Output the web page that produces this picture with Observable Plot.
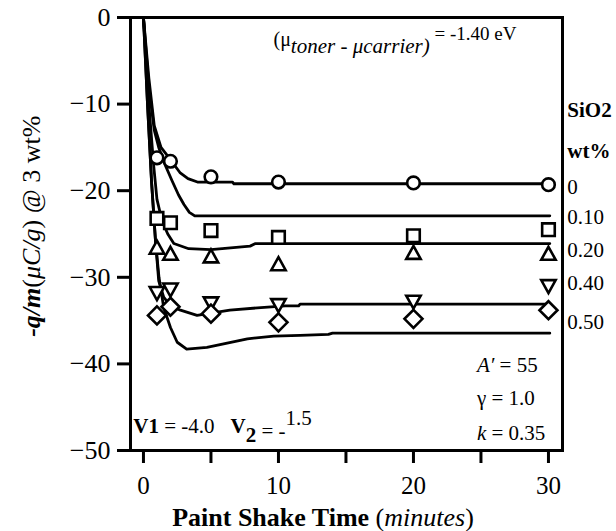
<!DOCTYPE html>
<html><head><meta charset="utf-8">
<script src="https://cdn.jsdelivr.net/npm/d3@7"></script>
<script src="https://cdn.jsdelivr.net/npm/@observablehq/plot@0.6"></script>
<style>
body{margin:0;background:#fff}
svg{display:block}
svg text, svg g { font-family: "Liberation Serif", "Times New Roman", serif !important; }
</style>
</head><body><div id="chart"></div>
<script>
// ---- data ----
const times = [1, 2, 5, 10, 20, 30];
const wtLabels = ["0", "0.10", "0.20", "0.40", "0.50"];
const qm000 = [-16.2, -16.6, -18.4, -19.0, -19.1, -19.3];
const qm010 = [-23.2, -23.7, -24.6, -25.4, -25.2, -24.5];
const qm020 = [-26.7, -27.4, -27.7, -28.6, -27.3, -27.4];
const qm040 = [-31.7, -31.3, -32.9, -33.1, -32.7, -30.9];
const qm050 = [-34.4, -33.4, -34.2, -35.2, -34.8, -33.8];

const model000 = [[0,0],[0.4,-7],[0.8,-12.5],[1.3,-15],[1.8,-16],[2.7,-17.9],[3.3,-18.6],[4,-19.0],[6.6,-19.0],[6.7,-19.2],[30,-19.2]];
const model010 = [[0,0],[0.4,-8],[0.8,-13],[1.13,-15],[1.6,-17],[2.1,-18.8],[2.6,-20.5],[3.0,-21.6],[3.4,-22.5],[3.8,-22.9],[30.1,-22.9]];
const model020 = [[0,0],[0.4,-10],[0.75,-17],[1.0,-21],[1.38,-23.5],[1.8,-25],[2.25,-26.1],[3.35,-26.7],[5,-26.8],[7.9,-26.4],[8.3,-26.1],[30.1,-26.1]];
const model040 = [[0,0],[0.3,-10],[0.6,-19],[0.9,-26],[1.13,-30.4],[1.5,-32.3],[2.0,-33.3],[2.74,-33.8],[3.97,-34.4],[6.4,-33.8],[8.7,-33.5],[10.5,-33.3],[11.5,-33.3],[11.6,-33.1],[30.1,-33.1]];
const model050 = [[0,0],[0.3,-10],[0.6,-19],[0.9,-26],[1.15,-30],[1.5,-33.5],[2.0,-35.8],[2.5,-37.5],[3.2,-38.3],[4.7,-38.1],[7.7,-37.1],[9.65,-36.8],[11.6,-36.7],[13.7,-36.6],[14,-36.45],[30.1,-36.45]];

const xTicks = [0, 5, 10, 15, 20, 25, 30];
const yTicks = [0, -10, -20, -30, -40, -50];

// ---- symbols ----
const circleSym = {draw(c){ const R=6.3; c.moveTo(R,0); c.arc(0,0,R,0,2*Math.PI); c.closePath(); }};
const squareSym = {draw(c){ const h=6.3; c.moveTo(-h,-h); c.lineTo(h,-h); c.lineTo(h,h); c.lineTo(-h,h); c.closePath(); }};
const triUpSym = {draw(c){ c.moveTo(0,-8); c.lineTo(7.2,5); c.lineTo(-7.2,5); c.closePath(); }};
const triDownSym = {draw(c){ c.moveTo(0,8); c.lineTo(7.2,-5); c.lineTo(-7.2,-5); c.closePath(); }};
const diamondSym = {draw(c){ const d=9; c.moveTo(0,-d); c.lineTo(d,0); c.lineTo(0,d); c.lineTo(-d,0); c.closePath(); }};

const pts = (vals) => times.map((t, i) => ({t, v: vals[i]}));
const curve = (arr) => arr.map(([t, v]) => ({t, v}));

const dotOpts = (sym) => ({x: "t", y: "v", symbol: sym, r: 5, fill: "white", stroke: "black", strokeWidth: 2.6});
const lineOpts = {x: "t", y: "v", stroke: "black", strokeWidth: 2.8, strokeLinejoin: "round"};

const font = "Liberation Serif";

const plot = Plot.plot({
  width: 616, height: 531,
  marginLeft: 130, marginRight: 54, marginTop: 17, marginBottom: 81,
  x: {domain: [-0.96, 31.04]},
  y: {domain: [-50, 0]},
  style: {fontFamily: font, background: "white", color: "black"},
  marks: [
    Plot.axisX({ticks: xTicks, tickSize: 13, tickPadding: 13, strokeWidth: 3, fontSize: 25, fontFamily: font,
      tickFormat: d => d % 10 === 0 ? String(d) : "", label: null}),
    Plot.axisY({ticks: yTicks, tickSize: 13, tickPadding: 7, strokeWidth: 3, fontSize: 26, fontFamily: font, label: null}),
    Plot.frame({strokeWidth: 3}),
    Plot.line(curve(model000), lineOpts),
    Plot.line(curve(model010), lineOpts),
    Plot.line(curve(model020), lineOpts),
    Plot.line(curve(model040), lineOpts),
    Plot.line(curve(model050), lineOpts),
    Plot.dot(pts(qm000), dotOpts(circleSym)),
    Plot.dot(pts(qm010), dotOpts(squareSym)),
    Plot.dot(pts(qm020), dotOpts(triUpSym)),
    Plot.dot(pts(qm040), dotOpts(triDownSym)),
    Plot.dot(pts(qm050), dotOpts(diamondSym)),
    // labels on right
    Plot.text(["SiO2"], {x: 31.4, y: -10.7, text: d => d, textAnchor: "start", fontSize: 21, fontWeight: "bold", fontFamily: font}),
    Plot.text(["wt%"], {x: 31.4, y: -15.4, text: d => d, textAnchor: "start", fontSize: 21, fontWeight: "bold", fontFamily: font}),
    Plot.text(wtLabels, {x: 31.4, y: (d, i) => [-19.6, -23.1, -26.9, -30.7, -35.2][i], text: d => d, textAnchor: "start", fontSize: 21, fontFamily: font}),
    // annotations (placeholders replaced with rich text below)
    Plot.text(["§mu"], {x: 9.63, y: -2.6, text: d => d, textAnchor: "start", fontSize: 20, fontFamily: font}),
    Plot.text(["§a"], {x: 24.7, y: -40.1, text: d => d, textAnchor: "start", fontSize: 21, fontFamily: font}),
    Plot.text(["§g"], {x: 24.7, y: -44.0, text: d => d, textAnchor: "start", fontSize: 21, fontFamily: font}),
    Plot.text(["§k"], {x: 24.7, y: -48.0, text: d => d, textAnchor: "start", fontSize: 21, fontFamily: font}),
    Plot.text(["§v"], {x: -0.75, y: -47.2, text: d => d, textAnchor: "start", fontSize: 21, fontFamily: font}),
    Plot.text(["§xl"], {x: 13.3, y: -57.7, text: d => d, textAnchor: "middle", fontSize: 26, fontFamily: font}),
    Plot.text(["§yl"], {x: -8.3, y: -24.1, text: d => d, textAnchor: "middle", fontSize: 26, rotate: -90, fontFamily: font})
  ]
});

const NS = "http://www.w3.org/2000/svg";
function rich(key, runs) {
  const t = [...plot.querySelectorAll("text")].find(e => e.textContent === key);
  if (!t) return;
  t.textContent = "";
  for (const r of runs) {
    const s = document.createElementNS(NS, "tspan");
    s.textContent = r.t;
    if (r.w) s.setAttribute("font-weight", r.w);
    if (r.s) s.setAttribute("font-style", r.s);
    if (r.dy) s.setAttribute("dy", r.dy);
    if (r.dx) s.setAttribute("dx", r.dx);
    if (r.fs) s.setAttribute("font-size", r.fs);
    t.appendChild(s);
  }
}
rich("§mu", [{t: "(μ"}, {t: "toner - μcarrier)", s: "italic", dy: 7, fs: 21}, {t: " = -1.40 eV", dy: -13, fs: 19}]);
rich("§a", [{t: "A′", s: "italic"}, {t: " = 55"}]);
rich("§g", [{t: "γ = 1.0"}]);
rich("§k", [{t: "k", s: "italic"}, {t: " = 0.35"}]);
rich("§v", [{t: "V1", w: "bold"}, {t: " = -4.0"}, {t: "V", w: "bold", dx: 16}, {t: "2", w: "bold", dy: 9}, {t: " = -", dy: -4}, {t: "1.5", dy: -13}]);
rich("§xl", [{t: "Paint Shake Time ", w: "bold"}, {t: "("}, {t: "minutes", s: "italic"}, {t: ")"}]);
rich("§yl", [{t: "-q/m", w: "bold", s: "italic"}, {t: "("}, {t: "μC/g", s: "italic"}, {t: ") @ 3 wt%"}]);

document.getElementById("chart").appendChild(plot);
</script>
</body></html>
